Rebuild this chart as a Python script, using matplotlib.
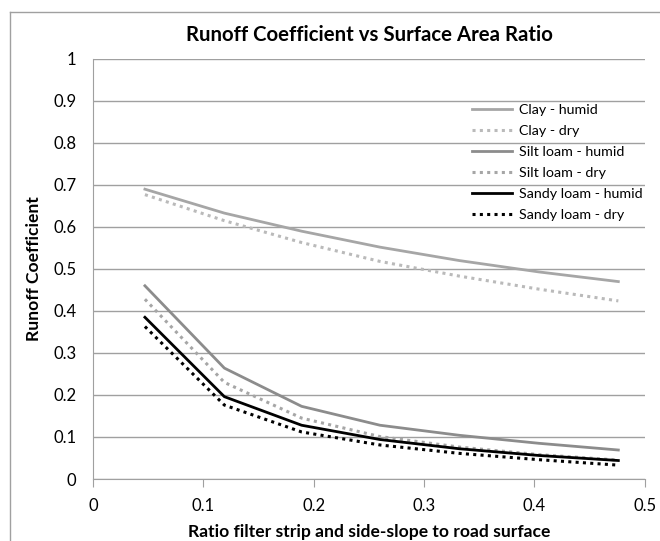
import matplotlib.pyplot as plt
from matplotlib.lines import Line2D

plt.rcParams['font.family'] = ['Lato', 'DejaVu Sans']

ratio = [0.047, 0.119, 0.189, 0.26, 0.332, 0.404, 0.476]

clay_humid = [0.690, 0.633, 0.590, 0.552, 0.520, 0.493, 0.470]
clay_dry = [0.677, 0.615, 0.563, 0.518, 0.483, 0.452, 0.424]
silt_humid = [0.460, 0.264, 0.173, 0.128, 0.104, 0.085, 0.069]
silt_dry = [0.428, 0.230, 0.145, 0.101, 0.076, 0.058, 0.045]
sandy_humid = [0.385, 0.196, 0.128, 0.094, 0.072, 0.056, 0.044]
sandy_dry = [0.363, 0.176, 0.112, 0.081, 0.061, 0.046, 0.033]

series = [
    ("Clay - humid", clay_humid, "#a6a6a6", "-"),
    ("Clay - dry", clay_dry, "#bababa", (0, (1, 1.4))),
    ("Silt loam - humid", silt_humid, "#8c8c8c", "-"),
    ("Silt loam - dry", silt_dry, "#a6a6a6", (0, (1, 1.4))),
    ("Sandy loam - humid", sandy_humid, "#000000", "-"),
    ("Sandy loam - dry", sandy_dry, "#000000", (0, (1, 1.4))),
]

fig = plt.figure(figsize=(6.6, 5.41), dpi=100)
ax = fig.add_axes([0.141, 0.1146, 0.836, 0.7764])

for label, values, color, style in series:
    lw = 2.0 if style == "-" else 2.2
    ax.plot(ratio, values, color=color, linestyle=style, linewidth=lw, label=label)

ax.set_xlim(0, 0.5)
ax.set_ylim(0, 1)
ax.set_xticks([0, 0.1, 0.2, 0.3, 0.4, 0.5])
ax.set_xticklabels(["0", "0.1", "0.2", "0.3", "0.4", "0.5"])
ax.set_yticks([i / 10 for i in range(11)])
ax.set_yticklabels(["0"] + ["0.%d" % i for i in range(1, 10)] + ["1"])
ax.yaxis.grid(True, color="#a0a0a0", linewidth=1)
ax.set_axisbelow(True)
for side in ["top", "right"]:
    ax.spines[side].set_visible(False)
ax.spines["left"].set_color("#a0a0a0")
ax.spines["bottom"].set_color("#a0a0a0")
ax.tick_params(axis="y", length=0, pad=12, labelsize=12)
ax.tick_params(axis="x", length=6, color="#a0a0a0", pad=8, labelsize=12)

ax.set_title("Runoff Coefficient vs Surface Area Ratio", fontsize=14.7,
             fontweight="bold", pad=13)
ax.set_xlabel("Ratio filter strip and side-slope to road surface",
              fontsize=12.6, fontweight="bold", labelpad=7)
ax.set_ylabel("Runoff Coefficient", fontsize=12.6, fontweight="bold", labelpad=8)

ax.legend(loc="upper left", bbox_to_anchor=(0.668, 0.916), frameon=False,
          fontsize=10.3, handlelength=2.8, labelspacing=0.62, handletextpad=0.5,
          borderaxespad=0.3)

# outer chart border (top and left edges visible)
fig.add_artist(Line2D([10 / 660, 1.0], [1 - 12 / 541, 1 - 12 / 541],
                      transform=fig.transFigure, color="#a0a0a0", linewidth=1))
fig.add_artist(Line2D([10 / 660, 10 / 660], [0, 1 - 12 / 541],
                      transform=fig.transFigure, color="#a0a0a0", linewidth=1))

fig.savefig("out.png", dpi=100)
